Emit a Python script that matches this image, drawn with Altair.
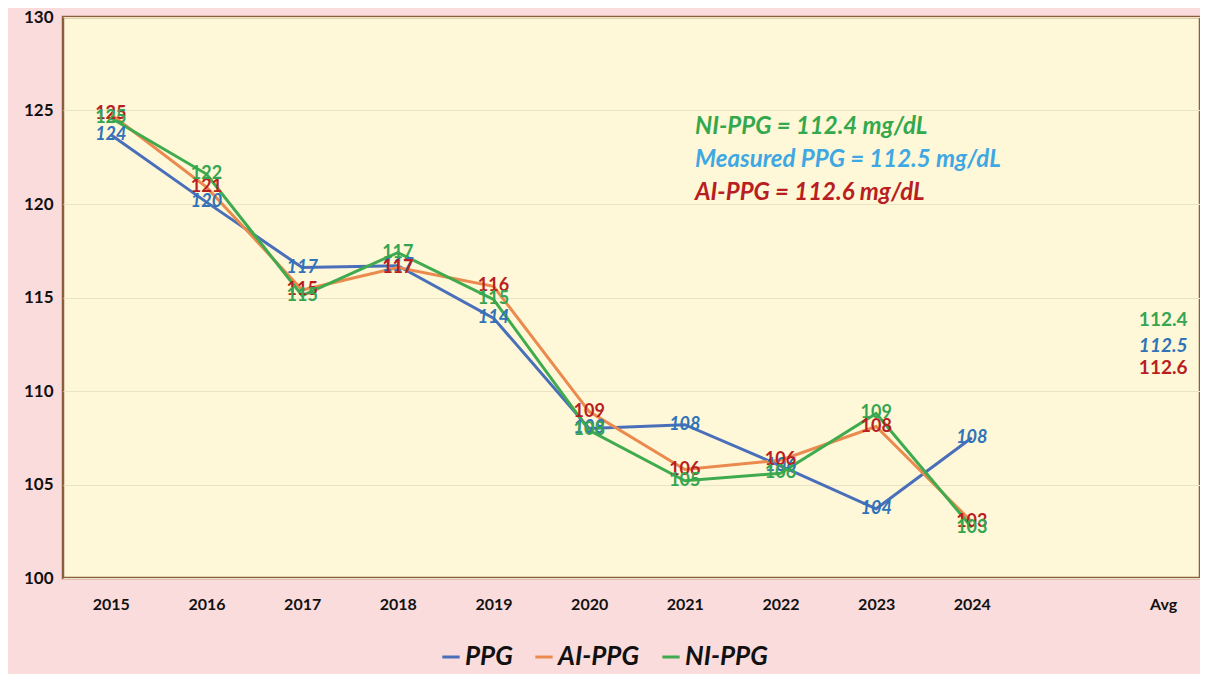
import altair as alt
import pandas as pd

years = ["2015", "2016", "2017", "2018", "2019", "2020", "2021", "2022", "2023", "2024"]
ppg = [123.7, 120.1, 116.6, 116.7, 113.9, 108.0, 108.2, 106.0, 103.7, 107.5]
ai_ppg = [124.8, 120.9, 115.4, 116.6, 115.6, 108.9, 105.8, 106.3, 108.1, 103.0]
ni_ppg = [124.6, 121.6, 115.1, 117.4, 114.9, 107.9, 105.2, 105.6, 108.8, 102.7]
series = ["PPG", "AI-PPG", "NI-PPG"]
avg_values = [112.5, 112.6, 112.4]
categories = years + [" ", "Avg"]
notes = ["NI-PPG = 112.4 mg/dL", "Measured PPG = 112.5 mg/dL", "AI-PPG = 112.6 mg/dL"]

line_colors = ["#4a6fba", "#ea8a4e", "#3fab4e"]
label_colors = ["#2f74b8", "#b81e22", "#36a552"]
note_colors = ["#33a84c", "#3fa8e3", "#b81e22"]

rows = []
for s, vals in zip(series, [ppg, ai_ppg, ni_ppg]):
    for y, v in zip(years, vals):
        rows.append({"Year": y, "Series": s, "Value": v})
df = pd.DataFrame(rows)
avg_df = pd.DataFrame({"Year": ["Avg"] * 3, "Series": series, "Value": avg_values})

FONT = "Lato"
x_enc = alt.X(
    "Year:N",
    scale=alt.Scale(domain=categories, range=[0, 1148], paddingOuter=0.025, paddingInner=0),
    axis=alt.Axis(title=None, labelAngle=0, labelFont=FONT, labelFontSize=16, labelFontWeight="bold",
                  labelColor="#111111", labelPadding=18, ticks=False, domain=False, grid=False),
)
y_enc = alt.Y(
    "Value:Q",
    scale=alt.Scale(domain=[100, 130], nice=False, zero=False),
    axis=alt.Axis(title=None, values=[100, 105, 110, 115, 120, 125, 130], labelFont=FONT,
                  labelFontSize=17, labelFontWeight="bold", labelColor="#111111", labelPadding=10,
                  ticks=False, domain=False, grid=True, gridColor="#ebe4c4", gridWidth=1),
)

base = alt.Chart(df)
lines = base.mark_line(strokeWidth=3).encode(
    x=x_enc, y=y_enc,
    color=alt.Color("Series:N", scale=alt.Scale(domain=series, range=line_colors),
                    legend=alt.Legend(title=None, orient="none", legendX=375, legendY=627,
                                      direction="horizontal", symbolType="stroke",
                                      symbolStrokeWidth=3, symbolSize=300, labelFont=FONT,
                                      labelFontSize=26, labelFontWeight="bold",
                                      labelFontStyle="italic", labelColor="#111111",
                                      columnPadding=16, labelOffset=1, labelLimit=300)),
    order=alt.value(0),
)

layers = [lines]
for s, col, italic in zip(series, label_colors, [True, False, False]):
    layers.append(
        base.transform_filter(alt.datum.Series == s).mark_text(
            font=FONT, fontSize=18, fontWeight="bold", fontStyle="italic" if italic else "normal",
            color=col, baseline="middle", align="center",
        ).encode(x=x_enc, y=y_enc, text=alt.Text("Value:Q", format=".0f"))
    )

for s, col, italic, dy in zip(series, label_colors, [True, False, False], [2, 26, -26]):
    layers.append(
        alt.Chart(avg_df).transform_filter(alt.datum.Series == s).mark_text(
            font=FONT, fontSize=19, fontWeight="bold", fontStyle="italic" if italic else "normal",
            color=col, baseline="middle", align="center", dy=dy,
        ).encode(x=x_enc, y=y_enc, text=alt.Text("Value:Q", format=".1f"))
    )

note_df = pd.DataFrame({"Note": notes, "Color": note_colors, "Row": [0, 1, 2]})
for i, (n, c) in enumerate(zip(notes, note_colors)):
    layers.append(
        alt.Chart(note_df).transform_filter(alt.datum.Row == i).mark_text(
            font=FONT, fontSize=24, fontWeight="bold", fontStyle="italic", color=c,
            align="left", baseline="middle",
        ).encode(x=alt.value(632), y=alt.value(110 + 33 * i), text="Note:N")
    )

chart = alt.layer(*layers).properties(
    width=1137, height=561,
    padding={"left": 55, "top": 9, "right": 0, "bottom": 96},
    autosize=alt.AutoSizeParams(type="none"),
    background="#fbdcdc",
).configure_view(fill="#fef8d8", stroke="#8b5e3c", strokeWidth=2.5)

chart.save("out.html", embed_options={"renderer": "svg", "actions": False})
